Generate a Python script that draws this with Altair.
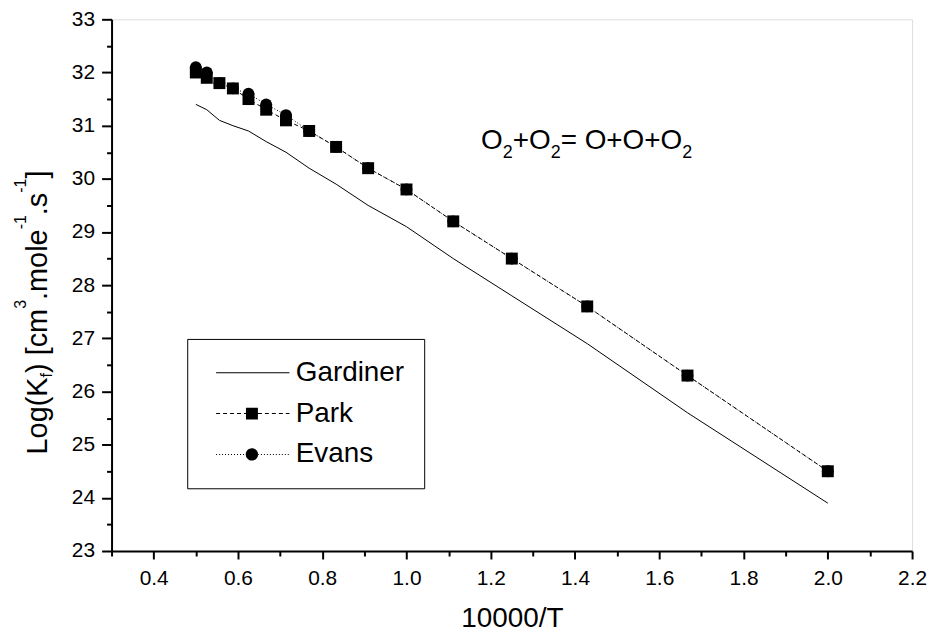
import altair as alt
import pandas as pd

# ---------------- data ----------------
inv_T = [0.5, 0.526, 0.556, 0.588, 0.625, 0.667, 0.714, 0.769, 0.833,
         0.909, 1.0, 1.111, 1.25, 1.429, 1.667, 2.0]
gardiner = [31.4, 31.3, 31.1, 31.0, 30.9, 30.7, 30.5, 30.2, 29.9,
            29.5, 29.1, 28.5, 27.8, 26.9, 25.6, 23.9]
park = [32.0, 31.9, 31.8, 31.7, 31.5, 31.3, 31.1, 30.9, 30.6,
        30.2, 29.8, 29.2, 28.5, 27.6, 26.3, 24.5]
evans = [32.1, 32.0, 31.8, 31.7, 31.6, 31.4, 31.2, 30.9, 30.6,
         30.2, 29.8, 29.2, 28.5, 27.6, 26.3, 24.5]
series_names = ["Gardiner", "Park", "Evans"]

x_ticks = [0.3, 0.4, 0.5, 0.6, 0.7, 0.8, 0.9, 1.0, 1.1, 1.2, 1.3, 1.4,
           1.5, 1.6, 1.7, 1.8, 1.9, 2.0, 2.1, 2.2]
y_ticks = [23, 23.5, 24, 24.5, 25, 25.5, 26, 26.5, 27, 27.5, 28, 28.5,
           29, 29.5, 30, 30.5, 31, 31.5, 32, 32.5, 33]

x_title = "10000/T"
# (text, is_small, shift) pieces of rich texts
y_title_pieces = [("Log(K", False, 0), ("f", True, 5), (") [cm", False, 0),
                  ("3", True, -21), (".mole", False, 0), ("-1", True, -21),
                  (".s", False, 0), ("-1", True, -21), ("]", False, 0)]
reaction_pieces = [("O", False, 0), ("2", True, 9), ("+O", False, 0),
                   ("2", True, 9), ("= O+O+O", False, 0), ("2", True, 9)]
reaction_pos = {"x": [1.177], "y": [30.56]}

FONT = "Liberation Sans, Arial, sans-serif"

# Arial / Liberation Sans advance widths (per 1000 em)
CW = {"L": 556, "o": 556, "g": 556, "(": 333, "K": 667, "f": 278, ")": 333,
      " ": 278, "[": 278, "c": 500, "m": 833, "3": 556, ".": 278, "l": 222,
      "e": 556, "-": 333, "1": 556, "s": 500, "]": 278, "O": 778, "2": 556,
      "+": 584, "=": 584}


def text_w(t, size):
    return sum(CW.get(ch, 556) for ch in t) * size / 1000.0


X_SCALE = alt.Scale(domain=[0.3, 2.2], nice=False, zero=False)
Y_SCALE = alt.Scale(domain=[23, 33], nice=False, zero=False)

x_axis = alt.Axis(
    values=x_ticks,
    labelExpr="round(datum.value*10) % 2 == 0 ? format(datum.value, '.1f') : ''",
    tickSize={"condition": {"test": "round(datum.value*10) % 2 != 0", "value": 5}, "value": 8},
    title=x_title, titleFont=FONT, titleFontSize=28, titleFontWeight="normal",
    titlePadding=16, titleColor="black",
    labelFont=FONT, labelFontSize=21, labelColor="black", labelPadding=9,
    labelFlush=False, labelOverlap=False, grid=False,
    domainColor="black", domainWidth=2, tickColor="black", tickWidth=2,
)
y_axis = alt.Axis(
    values=y_ticks,
    labelExpr="round(datum.value*2) % 2 == 0 ? format(datum.value, 'd') : ''",
    tickSize={"condition": {"test": "round(datum.value*2) % 2 != 0", "value": 5}, "value": 10},
    title=None,
    labelFont=FONT, labelFontSize=21, labelColor="black", labelPadding=7,
    labelFlush=False, labelOverlap=False, grid=False,
    domainColor="black", domainWidth=2, tickColor="black", tickWidth=2,
)

df = pd.DataFrame({
    "x": inv_T * 3,
    "y": gardiner + park + evans,
    "series": ["Gardiner"] * len(inv_T) + ["Park"] * len(inv_T) + ["Evans"] * len(inv_T),
})

base = alt.Chart(df).encode(
    x=alt.X("x:Q", scale=X_SCALE, axis=x_axis),
    y=alt.Y("y:Q", scale=Y_SCALE, axis=y_axis),
)

g_line = base.transform_filter(alt.datum.series == "Gardiner").mark_line(
    color="black", strokeWidth=1)
p_line = base.transform_filter(alt.datum.series == "Park").mark_line(
    color="black", strokeWidth=1, strokeDash=[4, 3])
e_line = base.transform_filter(alt.datum.series == "Evans").mark_line(
    color="black", strokeWidth=1, strokeDash=[1, 2])
e_pts = base.transform_filter(alt.datum.series == "Evans").mark_point(
    shape="circle", filled=True, color="black", size=140, opacity=1)
p_pts = base.transform_filter(alt.datum.series == "Park").mark_point(
    shape="square", filled=True, color="black", size=144, opacity=1)


# legend symbols: line sample (as thin filled segments) + marker, one path each
def seg_path(x0, x1, on, off, gap=None, half=0.05):
    out = []
    x = x0
    while x < x1 - 1e-9:
        e = min(x + on, x1)
        pieces = [(x, e)]
        if gap is not None:
            g0, g1 = gap
            pieces = []
            if x < g0:
                pieces.append((x, min(e, g0)))
            if e > g1:
                pieces.append((max(x, g1), e))
        for a, b in pieces:
            if b - a > 1e-6:
                out.append(f"M{a:.3f},{-half}L{b:.3f},{-half}L{b:.3f},{half}L{a:.3f},{half}Z")
        x = e + off
    return "".join(out)


L0, L1, MC = -0.5, 6.87, 3.1
GAP = (MC - 0.6, MC + 0.6)
square = f"M{MC-0.6:.2f},-0.6L{MC+0.6:.2f},-0.6L{MC+0.6:.2f},0.6L{MC-0.6:.2f},0.6Z"
circle = (f"M{MC-0.62:.2f},0A0.62,0.62,0,1,0,{MC+0.62:.2f},0"
          f"A0.62,0.62,0,1,0,{MC-0.62:.2f},0Z")
legend_paths = [
    seg_path(L0, L1, L1 - L0, 0),
    seg_path(L0, L1, 0.4, 0.3, GAP) + square,
    seg_path(L0, L1, 0.1, 0.2, GAP) + circle,
]
leg = alt.Legend(
    title=None, orient="none", legendX=76, legendY=321, direction="vertical",
    padding=20, rowPadding=13, strokeColor="black", fillColor="white",
    labelFont=FONT, labelFontSize=28, labelColor="black", labelOffset=61,
    labelExpr="datum.label + '\u00a0\u00a0'",
    symbolSize=400, symbolStrokeWidth=0, symbolFillColor="black",
    symbolStrokeColor="black", symbolOpacity=1,
)
leg_df = pd.DataFrame({"series": series_names, "x": [None] * 3, "y": [None] * 3})
legend_layer = alt.Chart(leg_df).mark_point(
    filled=True, fill="black", strokeWidth=0, opacity=1
).encode(
    x=alt.X("x:Q", scale=X_SCALE, axis=x_axis),
    y=alt.Y("y:Q", scale=Y_SCALE, axis=y_axis),
    shape=alt.Shape("series:N", scale=alt.Scale(domain=series_names, range=legend_paths), legend=leg),
)

layers = [g_line, p_line, e_line, e_pts, p_pts, legend_layer]

# reaction annotation (rich text with subscripts)
off = 0.0
for txt, small, shift in reaction_pieces:
    size = 18 if small else 28
    layers.append(
        alt.Chart(pd.DataFrame({"x": reaction_pos["x"], "y": reaction_pos["y"], "t": [txt]}))
        .mark_text(align="left", baseline="alphabetic", font=FONT, fontSize=size,
                   dx=off, dy=shift, color="black")
        .encode(x=alt.X("x:Q", scale=X_SCALE, axis=x_axis),
                y=alt.Y("y:Q", scale=Y_SCALE, axis=y_axis),
                text="t:N")
    )
    off += text_w(txt, size)

# y-axis title (rotated rich text)
off = 0.0
for txt, small, shift in y_title_pieces:
    size = 16 if small else 29
    layers.append(
        alt.Chart(pd.DataFrame({"t": [txt]}))
        .mark_text(align="left", baseline="alphabetic", font=FONT, fontSize=size,
                   angle=270, dx=off, dy=shift, color="black")
        .encode(x=alt.value(-65), y=alt.value(437), text="t:N")
    )
    off += text_w(txt, size)

chart = alt.layer(*layers).properties(
    width=804, height=534,
    autosize=alt.AutoSizeParams(type="none"),
    padding={"left": 104, "top": 10, "right": 16, "bottom": 86},
).configure_view(stroke="black", strokeWidth=2).configure(background="white")

chart.save("out.html", embed_options={"renderer": "svg", "actions": False})
